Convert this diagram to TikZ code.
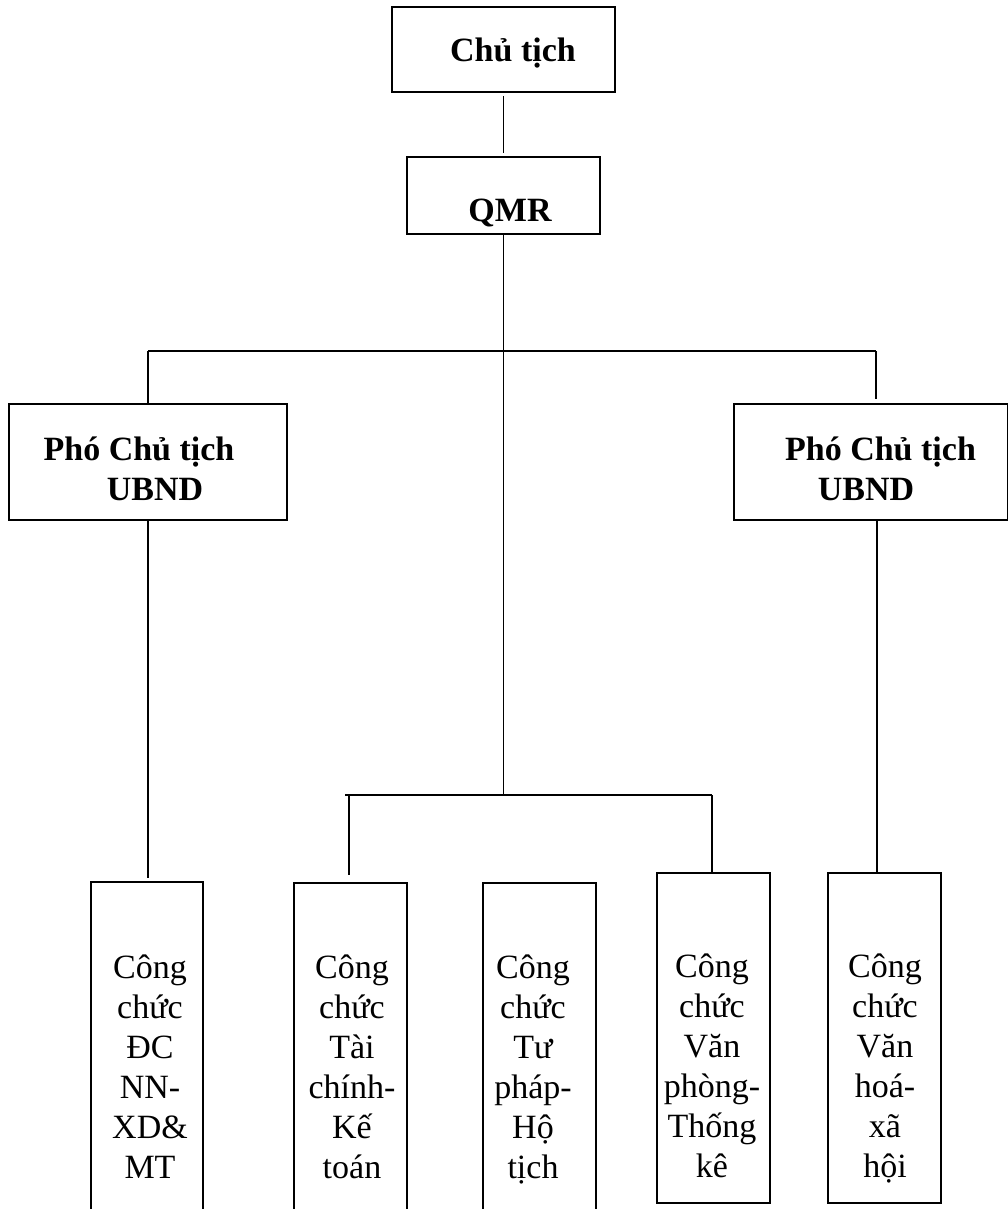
\documentclass[tikz,border=0pt]{standalone}
\usepackage{fontspec}
\setmainfont{Liberation Serif}
\tikzset{
  box/.style={draw, line width=2.6pt, inner sep=0pt},
  wire/.style={line width=1.8pt},
  bar/.style={line width=2.6pt},
  head/.style={font=\bfseries\fontsize{34}{40}\selectfont, align=center, anchor=base, inner sep=0pt},
  staff/.style={font=\fontsize{34}{40}\selectfont, align=center, anchor=base, inner sep=0pt}
}
\begin{document}
\begin{tikzpicture}[x=1pt,y=-1pt]
\useasboundingbox (0,0) rectangle (1007,1209);

% top
\node (chu) at (503.5,49.5) [box, minimum width=223pt, minimum height=85pt] {};
\node (qmr) at (503.5,195.5) [box, minimum width=193pt, minimum height=77pt] {};
\node (chut) at (513,62) [head] {Chủ tịch};
\node (qmrt) at (510,222) [head] {QMR};

% deputies
\node (pho1) at (148,462) [box, minimum width=278pt, minimum height=116pt] {};
\node (pho2) at (871,462) [box, minimum width=274pt, minimum height=116pt] {};
\node (pho1t) at (139,500) [head] {Phó Chủ tịch\\\hspace*{32pt}UBND};
\node (pho2t) at (880.5,500) [head] {Phó Chủ tịch\\UBND\hspace*{29pt}};

% staff
\node (cc1) at (147,1048.5) [box, minimum width=112pt, minimum height=333pt] {};
\node (cc2) at (350.5,1049) [box, minimum width=113pt, minimum height=332pt] {};
\node (cc3) at (539.5,1049) [box, minimum width=113pt, minimum height=332pt] {};
\node (cc4) at (713.5,1038) [box, minimum width=113pt, minimum height=330pt] {};
\node (cc5) at (884.5,1038) [box, minimum width=113pt, minimum height=330pt] {};
\node (cc1t) at (150,1178) [staff] {Công\\chức\\ĐC\\NN-\\XD\&\\MT};
\node (cc2t) at (352,1178) [staff] {Công\\chức\\Tài\\chính-\\Kế\\toán};
\node (cc3t) at (533,1178) [staff] {Công\\chức\\Tư\\pháp-\\Hộ\\tịch};
\node (cc4t) at (712,1177) [staff] {Công\\chức\\Văn\\phòng-\\Thống\\kê};
\node (cc5t) at (885,1177) [staff] {Công\\chức\\Văn\\hoá-\\xã\\hội};

\coordinate (up) at (503.5,351);
\coordinate (low) at (503.5,795);

\draw[wire]
([yshift=-3pt]chu.south) to ([yshift=3pt]qmr.north)
(qmr.south) to (low)
(pho1.north |- up) to (pho1.north)
([xshift=5pt]pho2.north |- up) to ([xshift=5pt,yshift=4pt]pho2.north)
(pho1.south) to ([yshift=3pt]pho1.south |- cc1.north)
([xshift=6pt]pho2.south) to ([xshift=6pt]pho2.south |- cc5.north)
([xshift=-1.5pt]cc2.north |- low) to ([xshift=-1.5pt,yshift=7pt]cc2.north)
([xshift=-1.5pt]cc4.north |- low) to ([xshift=-1.5pt]cc4.north);
\draw[bar]
(pho1.north |- up) to ([xshift=5pt]pho2.north |- up)
([xshift=-5.5pt]cc2.north |- low) to ([xshift=-1.5pt]cc4.north |- low);
\end{tikzpicture}
\end{document}
